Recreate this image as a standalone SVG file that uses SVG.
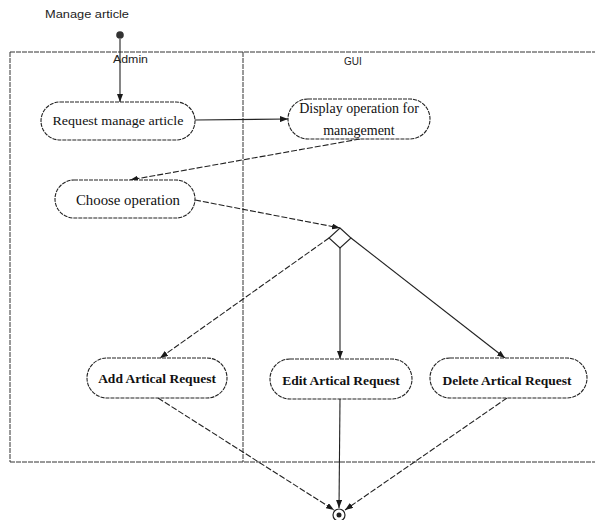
<svg xmlns="http://www.w3.org/2000/svg" width="595" height="520" viewBox="0 0 595 520">
<defs>
<marker id="arr" viewBox="0 0 8 6" refX="8" refY="3" markerWidth="8" markerHeight="6" markerUnits="userSpaceOnUse" orient="auto">
<path d="M0,0 L8,3 L0,6 z" fill="#1a1a1a"/>
</marker>
<style>
.lane{fill:none;stroke:#333;stroke-width:1;stroke-dasharray:5 1}
.node{fill:#fff;stroke:#222;stroke-width:1.1;stroke-dasharray:4 1}
.c{fill:none;stroke:#222;stroke-width:1.1;marker-end:url(#arr)}
.d{stroke-dasharray:6 2}
.sans{font-family:"Liberation Sans",Arial,sans-serif;font-size:10px;fill:#222}
.ser{font-family:"Liberation Serif","Times New Roman",serif;font-size:13.5px;fill:#111;text-anchor:middle}
.b{font-weight:bold}
</style>
</defs>
<rect width="595" height="520" fill="#fff"/>

<g id="swimlanes">
<path class="lane" d="M10,52 H595 M10,52 V462 M10,462 H595 M243,52 V462"/>
<text class="sans" x="113" y="63" textLength="35" lengthAdjust="spacingAndGlyphs">Admin</text>
<text class="sans" x="344" y="65">GUI</text>
</g>

<text id="title" class="sans" x="45" y="18" textLength="84" lengthAdjust="spacingAndGlyphs">Manage article</text>

<g id="connectors">
<path class="c" d="M120,39 L120,102"/>
<path class="c" d="M195,120 L288,119"/>
<path class="c d" d="M360,139 L130,180"/>
<path class="c d" d="M195,200 L340,228"/>
<path class="c d" d="M329,238 L160,358"/>
<path class="c" d="M340,248 L340,359"/>
<path class="c" d="M351,238 L505,358"/>
<path class="c d" d="M158,398 L334,510"/>
<path class="c" d="M340,399 L339,508"/>
<path class="c d" d="M507,398 L345,510"/>
</g>

<g id="start">
<circle cx="120" cy="35" r="3.8" fill="#333"/>
</g>

<g id="request">
<rect class="node" x="41" y="102" width="154" height="38" rx="19"/>
<text class="ser" x="118" y="125" textLength="131" lengthAdjust="spacingAndGlyphs">Request manage article</text>
</g>

<g id="display">
<rect class="node" x="288" y="99" width="142" height="40" rx="20"/>
<text class="ser" x="359" y="113" style="font-size:14px">Display operation for</text>
<text class="ser" x="359" y="135" style="font-size:14px">management</text>
</g>

<g id="choose">
<rect class="node" x="55" y="180" width="140" height="38" rx="19"/>
<text class="ser" x="128" y="205" style="font-size:14px" textLength="104" lengthAdjust="spacingAndGlyphs">Choose operation</text>
</g>

<g id="decision">
<polygon points="340,228 351,238 340,248 329,238" fill="#fff" stroke="#222" stroke-width="1.1"/>
</g>

<g id="add">
<rect class="node" x="87" y="358" width="140" height="40" rx="20"/>
<text class="ser b" x="157" y="383">Add Artical Request</text>
</g>

<g id="edit">
<rect class="node" x="270" y="359" width="142" height="40" rx="20"/>
<text class="ser b" x="341" y="385">Edit Artical Request</text>
</g>

<g id="delete">
<rect class="node" x="430" y="358" width="157" height="40" rx="20"/>
<text class="ser b" x="507" y="385">Delete Artical Request</text>
</g>

<g id="end">
<circle cx="339" cy="515" r="6" fill="#fff" stroke="#222" stroke-width="1.2"/>
<circle cx="339" cy="515" r="2.5" fill="#222"/>
</g>
</svg>
